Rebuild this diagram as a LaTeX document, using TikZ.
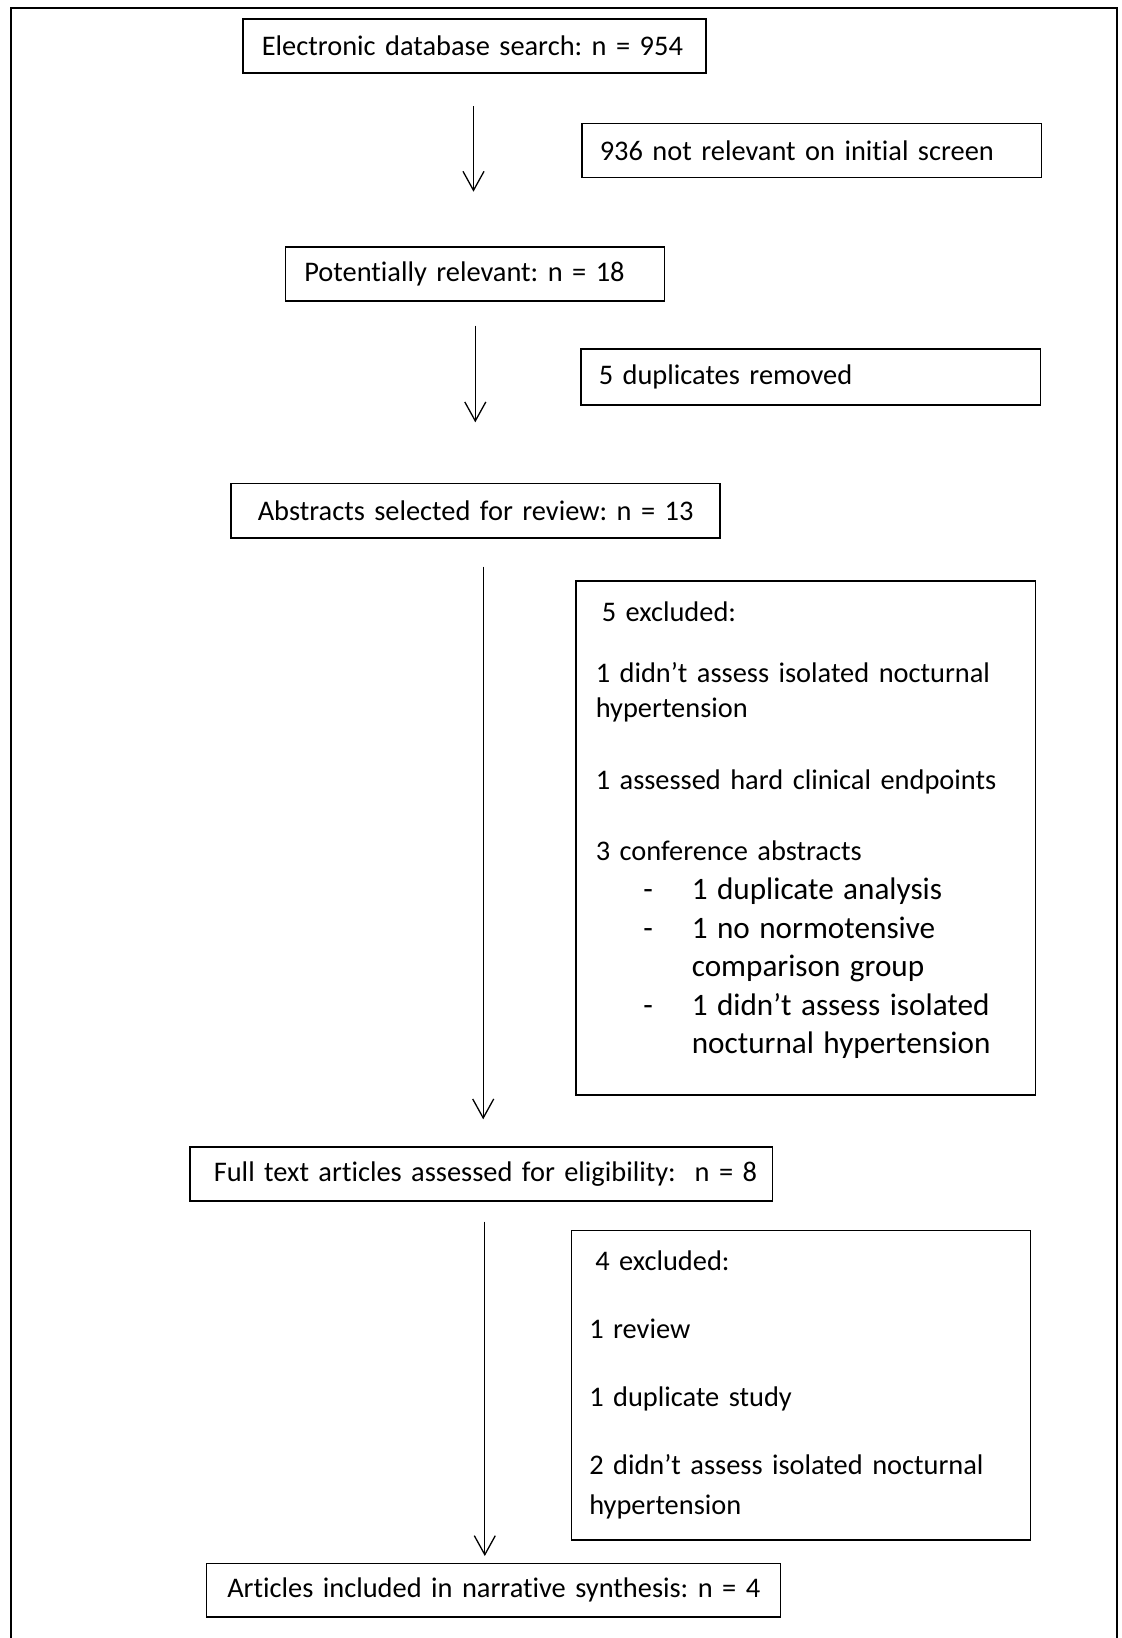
\documentclass[tikz,border=0pt]{standalone}
\usepackage{fontspec}
\setmainfont{Carlito}[Ligatures=NoCommon]
\usetikzlibrary{arrows.meta}

% a dashed sub-point inside the first exclusion box
\newcommand\exsub[1]{\par{\fontsize{15.6pt}{19.3pt}\selectfont
  \leftskip=48pt\noindent\llap{-\hspace{19.5pt}}#1\par}}

\begin{document}
\frenchspacing
\begin{tikzpicture}[x=0.5pt, y=-0.5pt,
    box/.style={draw, line width=0.8pt, anchor=north west, inner ysep=0pt,
      align=left, font={\fontsize{14.2pt}{17.65pt}\selectfont}},
    flow/.style={line width=0.65pt, -{Straight Barb[length=9.5pt, width=10.5pt]}}]

  \useasboundingbox (0,0) rectangle (1122,1638);

  % -- page frame, open at the foot
  \draw[line width=1pt] (11,1660) -- (11,8) -- (1117,8) -- (1117,1660);

  % -- main column (one line each, kept from wrapping)
  \node[box, inner xsep=9.5pt, text width=212.5pt, minimum height=27pt]
    (search) at (242,18) {\mbox{Electronic database search: n = 954}};
  \node[box, inner xsep=9.5pt, text width=170.5pt, minimum height=27pt]
    (relevant) at (284.5,246) {\mbox{Potentially relevant: n = 18}};
  \node[box, inner xsep=13.5pt, text width=217.5pt, minimum height=27.25pt]
    (abstracts) at (230,482.5) {\mbox{Abstracts selected for review: n = 13}};
  \node[box, inner xsep=12pt, text width=267.25pt, minimum height=27pt]
    (fulltext) at (189,1146) {\mbox{Full text articles assessed for eligibility:\ \ n = 8}};
  \node[box, inner xsep=10.5pt, text width=266pt, minimum height=26.75pt]
    (included) at (205.5,1562.5) {\mbox{Articles included in narrative synthesis: n = 4}};

  % -- side boxes, what dropped out at each step
  \node[box, inner xsep=9pt, text width=211.75pt, minimum height=27pt]
    (screen) at (581,122.5) {\mbox{936 not relevant on initial screen}};
  \node[box, inner xsep=9pt, text width=211.75pt, minimum height=28pt]
    (dupl) at (580,348) {\mbox{5 duplicates removed}};
  \node[box, inner xsep=10pt, text width=209.75pt, minimum height=257pt]
    (excla) at (575,580) {\hspace*{3pt}5 excluded:\\[12.7pt]
      1 didn’t assess isolated nocturnal\\hypertension\\[18.5pt]
      1 assessed hard clinical endpoints\\[17.85pt]
      3 conference abstracts
      \exsub{1 duplicate analysis}
      \exsub{1 no normotensive\\comparison group}
      \exsub{1 didn’t assess isolated\\nocturnal hypertension}
      \kern7.35pt};
  \node[box, inner xsep=9pt, text width=211.5pt, minimum height=154.75pt,
      font={\fontsize{14.2pt}{20pt}\selectfont}]
    (exclb) at (570.5,1229.5) {\hspace*{3pt}4 excluded:\\[13.9pt]
      1 review\\[13.9pt]
      1 duplicate study\\[13.9pt]
      2 didn’t assess isolated nocturnal\\hypertension};

  % -- the down arrows float between the boxes
  \foreach \n/\x/\ya/\yb in {1/473.5/106/191.7, 2/475.3/325.7/422.3,
                             3/483.2/566.7/1119.3, 4/484.8/1221.7/1556}{
    \coordinate (top\n) at (\x,\ya);
    \coordinate (tip\n) at (\x,\yb);
    \draw[flow] (top\n) -- (tip\n);}

\end{tikzpicture}
\end{document}
